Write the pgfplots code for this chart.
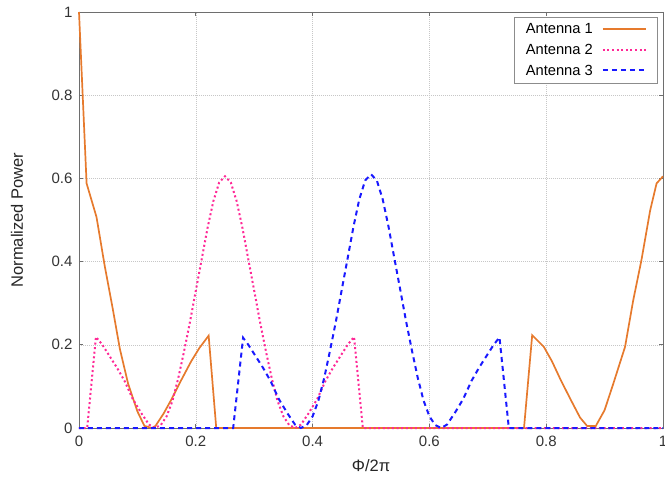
\documentclass[border=0pt]{standalone}
\usepackage{fontspec}
\setmainfont{Liberation Sans}
\usepackage{pgfplots}
\pgfplotsset{compat=1.18}
\definecolor{ant1}{RGB}{230,122,45}
\definecolor{ant2}{RGB}{255,40,150}
\definecolor{ant3}{RGB}{25,25,255}
\definecolor{frame}{RGB}{110,110,110}
\tikzset{
  a1/.style={color=ant1, solid, line width=1.7bp},
  a2/.style={color=ant2, line width=2bp, dash pattern=on 2bp off 2.6bp},
  a3/.style={color=ant3, line width=2bp, dash pattern=on 5bp off 4bp},
}

\begin{document}
\begin{tikzpicture}
\begin{axis}[
  name=ax,
  scale only axis,
  width=584bp, height=416bp,
  xmin=0, xmax=1, ymin=0, ymax=1,
  xtick={0,0.2,0.4,0.6,0.8,1},
  ytick={0,0.2,0.4,0.6,0.8,1},
  /pgf/number format/assume math mode=true,
  tick label style={font=\fontsize{15bp}{17bp}\selectfont, text=black!80},
  xticklabel style={yshift=-4.5bp},
  yticklabel style={xshift=-3bp},
  label style={font=\fontsize{16.5bp}{19bp}\selectfont, text=black!85},
  xlabel={Φ/2π},
  ylabel={Normalized Power},
  xlabel style={at={(axis description cs:0.5,-0.0913)}, anchor=center},
  ylabel style={at={(axis description cs:-0.106,0.5)}, anchor=center},
  axis line style={frame, line width=0.9bp},
  tick style={frame, line width=0.8bp},
  major tick length=4bp,
  grid=major,
  major grid style={black!22, line width=0.5bp, dash pattern=on 1bp off 1bp},
  clip=false,
  legend plot pos=right,
  legend cell align=right,
  legend style={at={(1,1)}, anchor=north east, xshift=-6bp, yshift=-5bp,
    draw=black!45, font=\fontsize{14.7bp}{17bp}\selectfont,
    row sep=5bp, inner xsep=10bp, inner ysep=4.5bp},
  legend image code/.code={\path (0bp,0bp); \draw[#1] (7bp,0.5bp) -- (50bp,0.5bp);},
]
\addlegendimage{a1, line width=2bp}
\addlegendentry{Antenna 1}
\addlegendimage{a2}
\addlegendentry{Antenna 2}
\addlegendimage{a3}
\addlegendentry{Antenna 3}
\addplot[a1, forget plot] coordinates {
 (0,1) (0.013,0.588) (0.03,0.507) (0.044,0.39) (0.058,0.285) (0.07,0.19)
 (0.084,0.107) (0.1,0.04) (0.112,0.005) (0.125,0) (0.131,0.005) (0.145,0.035)
 (0.158,0.068) (0.175,0.115) (0.192,0.16) (0.206,0.192) (0.222,0.222)
 (0.235,0) (0.762,0) (0.776,0.223) (0.796,0.195) (0.81,0.16) (0.825,0.115)
 (0.842,0.068) (0.858,0.025) (0.87,0.005) (0.885,0.005) (0.9,0.043)
 (0.915,0.107) (0.935,0.195) (0.949,0.307) (0.963,0.403) (0.978,0.523)
 (0.989,0.588) (1,0.605)
};
\addplot[a2, forget plot] coordinates {
 (0,0) (0.014,0) (0.029,0.219) (0.04,0.2) (0.05,0.178) (0.065,0.145)
 (0.078,0.113) (0.092,0.07) (0.107,0.035) (0.12,0.008) (0.13,0)
 (0.14,0.007) (0.15,0.028) (0.16,0.065) (0.17,0.12) (0.18,0.185)
 (0.19,0.255) (0.2,0.33) (0.21,0.405) (0.22,0.48) (0.23,0.545) (0.24,0.59)
 (0.25,0.605) (0.26,0.59) (0.27,0.545) (0.28,0.48) (0.29,0.405) (0.3,0.33)
 (0.31,0.255) (0.32,0.185) (0.33,0.12) (0.34,0.065) (0.35,0.028)
 (0.36,0.007) (0.37,0) (0.38,0.008) (0.393,0.035) (0.408,0.07)
 (0.422,0.113) (0.435,0.145) (0.45,0.178) (0.46,0.2) (0.471,0.219)
 (0.486,0) (1,0)
};
\addplot[a3, forget plot] coordinates {
 (0,0) (0.264,0) (0.281,0.217) (0.29,0.2) (0.3,0.178) (0.315,0.145)
 (0.328,0.113) (0.342,0.07) (0.357,0.035) (0.37,0.008) (0.38,0)
 (0.39,0.007) (0.4,0.028) (0.41,0.066) (0.42,0.121) (0.43,0.187)
 (0.44,0.257) (0.45,0.333) (0.46,0.408) (0.47,0.484) (0.48,0.55)
 (0.49,0.595) (0.5,0.61) (0.51,0.595) (0.52,0.55) (0.53,0.484)
 (0.54,0.408) (0.55,0.333) (0.56,0.257) (0.57,0.187) (0.58,0.121)
 (0.59,0.066) (0.6,0.028) (0.61,0.007) (0.62,0) (0.63,0.008)
 (0.643,0.035) (0.658,0.07) (0.672,0.113) (0.685,0.145) (0.7,0.178)
 (0.71,0.2) (0.72,0.218) (0.736,0) (1,0)
};
\end{axis}
\pgfresetboundingbox
\path ([shift={(-79bp,-49bp)}]ax.south west) rectangle ([shift={(2bp,12bp)}]ax.north east);
\end{tikzpicture}
\end{document}
